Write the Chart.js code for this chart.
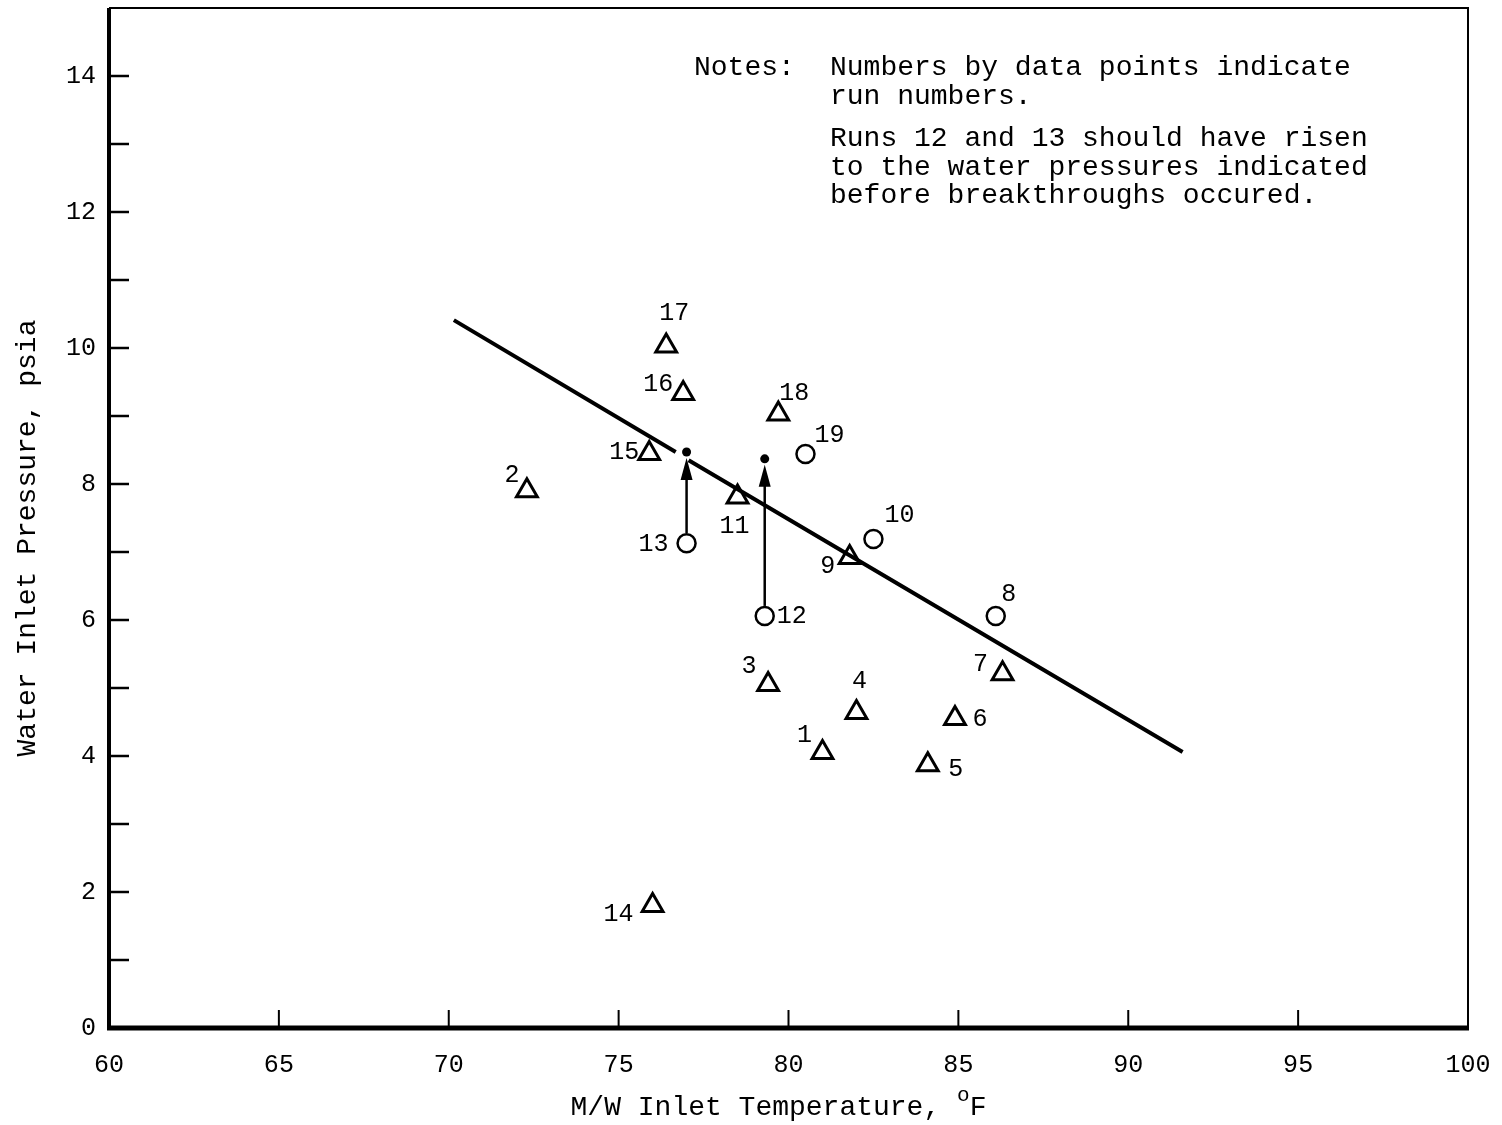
<!DOCTYPE html>
<html>
<head>
<meta charset="utf-8">
<title>Water Inlet Pressure vs M/W Inlet Temperature</title>
<script src="https://cdn.jsdelivr.net/npm/chart.js@4.4.1/dist/chart.umd.min.js"></script>
<style>
  html, body { margin: 0; padding: 0; background: #fff; }
  #wrap { width: 1502px; height: 1125px; }
  canvas { display: block; }
</style>
</head>
<body>
<div id="wrap"><canvas id="chart" width="1502" height="1125"></canvas></div>
<script>
// runs plotted as triangles
const triangleRuns = [1, 2, 3, 4, 5, 6, 7, 9, 11, 14, 15, 16, 17, 18];
const triangleTemp = [81.0, 72.3, 79.4, 82.0, 84.1, 84.9, 86.3, 81.8, 78.5, 76.0, 75.9, 76.9, 76.4, 79.7];
const trianglePressure = [4.05, 7.9, 5.05, 4.64, 3.87, 4.55, 5.21, 6.92, 7.81, 1.8, 8.45, 9.33, 10.03, 9.03];

// runs plotted as circles
const circleRuns = [8, 10, 12, 13, 19];
const circleTemp = [86.1, 82.5, 79.3, 77.0, 80.5];
const circlePressure = [6.06, 7.19, 6.06, 7.13, 8.44];

// runs 12 and 13: pressure they should have risen to
const arrowTemp = [77.0, 79.3];
const arrowFrom = [7.13, 6.06];
const arrowTo = [8.47, 8.37];

// fitted line, broken near the run 13 dot
const fitTemp = [70.15, 76.68, null, 77.06, 91.6];
const fitPressure = [10.41, 8.47, null, 8.35, 4.06];

const xTickValues = [60, 65, 70, 75, 80, 85, 90, 95, 100];
const yTickLabels = ['0', '2', '4', '6', '8', '10', '12', '14'];

const noteLines = [
  ['Notes:', 'Numbers by data points indicate'],
  ['', 'run numbers.'],
  ['', 'Runs 12 and 13 should have risen'],
  ['', 'to the water pressures indicated'],
  ['', 'before breakthroughs occured.'],
];

const MONO = "'Liberation Mono', 'DejaVu Sans Mono', monospace";
const INK = '#000';

// label placement relative to each marker (px)
const labelOffset = {
  1: [-18, -17], 2: [-15, -15], 3: [-19, -18], 4: [3, -31], 5: [28, 5],
  6: [25, 1], 7: [-22, -9], 8: [13, -22], 9: [-22, 9], 10: [26, -24],
  11: [-3, 29], 12: [27, 0], 13: [-33, 1], 14: [-34, 9], 15: [-25, -1],
  16: [-25, -9], 17: [8, -33], 18: [16, -21], 19: [24, -19],
};

const toPoints = (xs, ys) => xs.map((x, i) => ({ x: x, y: ys[i] }));

// keep the plot box at a fixed place whatever the tick labels need
const fixBox = (size) => (s) => {
  if (s.isHorizontal()) s.height = size; else s.width = size;
  s.paddingTop = 0; s.paddingBottom = 0; s.paddingLeft = 0; s.paddingRight = 0;
};

// frame, inward ticks, arrows, labels, titles, notes
const decorPlugin = {
  id: 'decor',
  afterDatasetsDraw(chart) {
    const { ctx, chartArea: a, scales } = chart;
    const xs = scales.x, ys = scales.y;
    ctx.save();
    ctx.strokeStyle = INK;
    ctx.fillStyle = INK;

    // frame
    ctx.lineWidth = 2;
    ctx.beginPath();
    ctx.moveTo(a.left, a.top); ctx.lineTo(a.right, a.top); ctx.lineTo(a.right, a.bottom);
    ctx.stroke();
    ctx.lineWidth = 4;
    ctx.beginPath(); ctx.moveTo(a.left, a.top); ctx.lineTo(a.left, a.bottom + 2); ctx.stroke();
    ctx.lineWidth = 5;
    ctx.beginPath(); ctx.moveTo(a.left - 2, a.bottom); ctx.lineTo(a.right + 1, a.bottom); ctx.stroke();

    // y ticks (every unit, pointing in)
    ctx.lineWidth = 2.5;
    ys.ticks.forEach((t) => {
      if (t.value <= ys.min || t.value >= ys.max) return;
      const py = ys.getPixelForValue(t.value);
      ctx.beginPath(); ctx.moveTo(a.left, py); ctx.lineTo(a.left + 20, py); ctx.stroke();
    });
    // x ticks (pointing up)
    ctx.lineWidth = 2;
    xs.ticks.forEach((t) => {
      if (t.value <= xs.min || t.value >= xs.max) return;
      const px = xs.getPixelForValue(t.value);
      ctx.beginPath(); ctx.moveTo(px, a.bottom); ctx.lineTo(px, a.bottom - 18); ctx.stroke();
    });

    // arrows for runs 12 and 13
    arrowTemp.forEach((t, i) => {
      const px = xs.getPixelForValue(t);
      const pFrom = ys.getPixelForValue(arrowFrom[i]) - 10;
      const pTo = ys.getPixelForValue(arrowTo[i]);
      ctx.lineWidth = 2.5;
      ctx.beginPath(); ctx.moveTo(px, pFrom); ctx.lineTo(px, pTo + 24); ctx.stroke();
      ctx.beginPath();
      ctx.moveTo(px, pTo + 6);
      ctx.lineTo(px - 6, pTo + 28);
      ctx.lineTo(px + 6, pTo + 28);
      ctx.closePath(); ctx.fill();
      ctx.beginPath(); ctx.arc(px, pTo, 4.5, 0, Math.PI * 2); ctx.fill();
    });

    // run number labels
    ctx.font = '25px ' + MONO;
    ctx.textAlign = 'center';
    ctx.textBaseline = 'middle';
    chart.data.datasets.forEach((ds, di) => {
      if (!ds.runs) return;
      chart.getDatasetMeta(di).data.forEach((el, i) => {
        const off = labelOffset[ds.runs[i]] || [0, -20];
        ctx.fillText(String(ds.runs[i]), el.x + off[0], el.y + off[1]);
      });
    });

    // y title
    ctx.save();
    ctx.font = '28px ' + MONO;
    ctx.translate(28, (a.top + a.bottom) / 2 + 20);
    ctx.rotate(-Math.PI / 2);
    ctx.fillText('Water Inlet Pressure, psia', 0, 0);
    ctx.restore();

    // x title with superscript o
    ctx.font = '28px ' + MONO;
    ctx.textAlign = 'left';
    ctx.textBaseline = 'alphabetic';
    const main = 'M/W Inlet Temperature, ';
    const wMain = ctx.measureText(main).width;
    ctx.font = '21px ' + MONO;
    const wSup = ctx.measureText('o').width;
    ctx.font = '28px ' + MONO;
    const wF = ctx.measureText('F').width;
    let tx = (a.left + a.right) / 2 - (wMain + wSup + wF) / 2 - 10;
    const base = 1115;
    ctx.fillText(main, tx, base);
    tx += wMain;
    ctx.font = '21px ' + MONO;
    ctx.fillText('o', tx, base - 14);
    tx += wSup;
    ctx.font = '28px ' + MONO;
    ctx.fillText('F', tx, base);

    // notes
    ctx.font = '28px ' + MONO;
    ctx.textBaseline = 'middle';
    const lineY = [68, 97, 139, 168, 196];
    noteLines.forEach((ln, i) => {
      if (ln[0]) ctx.fillText(ln[0], 694, lineY[i]);
      ctx.fillText(ln[1], 830, lineY[i]);
    });

    ctx.restore();
  },
};

new Chart(document.getElementById('chart'), {
  type: 'scatter',
  data: {
    datasets: [
      {
        type: 'line',
        label: 'Fit',
        data: toPoints(fitTemp, fitPressure),
        borderColor: INK,
        borderWidth: 4,
        pointRadius: 0,
        spanGaps: false,
        fill: false,
      },
      {
        label: 'Triangles',
        runs: triangleRuns,
        data: toPoints(triangleTemp, trianglePressure),
        pointStyle: 'triangle',
        pointRadius: 12,
        pointBorderWidth: 3,
        borderColor: INK,
        backgroundColor: 'rgba(0,0,0,0)',
      },
      {
        label: 'Circles',
        runs: circleRuns,
        data: toPoints(circleTemp, circlePressure),
        pointStyle: 'circle',
        pointRadius: 9,
        pointBorderWidth: 2.5,
        borderColor: INK,
        backgroundColor: 'rgba(0,0,0,0)',
      },
    ],
  },
  options: {
    responsive: false,
    animation: false,
    devicePixelRatio: 1,
    layout: { autoPadding: false, padding: { top: 8, right: 34, left: 0, bottom: 0 } },
    plugins: {
      legend: { display: false },
      tooltip: { enabled: false },
    },
    scales: {
      x: {
        type: 'linear',
        min: xTickValues[0],
        max: xTickValues[xTickValues.length - 1],
        afterBuildTicks: (s) => { s.ticks = xTickValues.map((v) => ({ value: v })); },
        ticks: {
          font: { family: MONO, size: 25 },
          color: INK,
          padding: 22,
          maxRotation: 0,
          autoSkip: false,
        },
        grid: { display: false, drawTicks: false },
        border: { display: false },
        afterFit: fixBox(97),
      },
      y: {
        type: 'linear',
        min: 0,
        max: 15,
        ticks: {
          stepSize: 1,
          font: { family: MONO, size: 25 },
          color: INK,
          padding: 13,
          callback: (v) => (yTickLabels.includes(String(v)) ? String(v) : ''),
        },
        grid: { display: false, drawTicks: false },
        border: { display: false },
        afterFit: fixBox(109),
      },
    },
  },
  plugins: [decorPlugin],
});
</script>
</body>
</html>
